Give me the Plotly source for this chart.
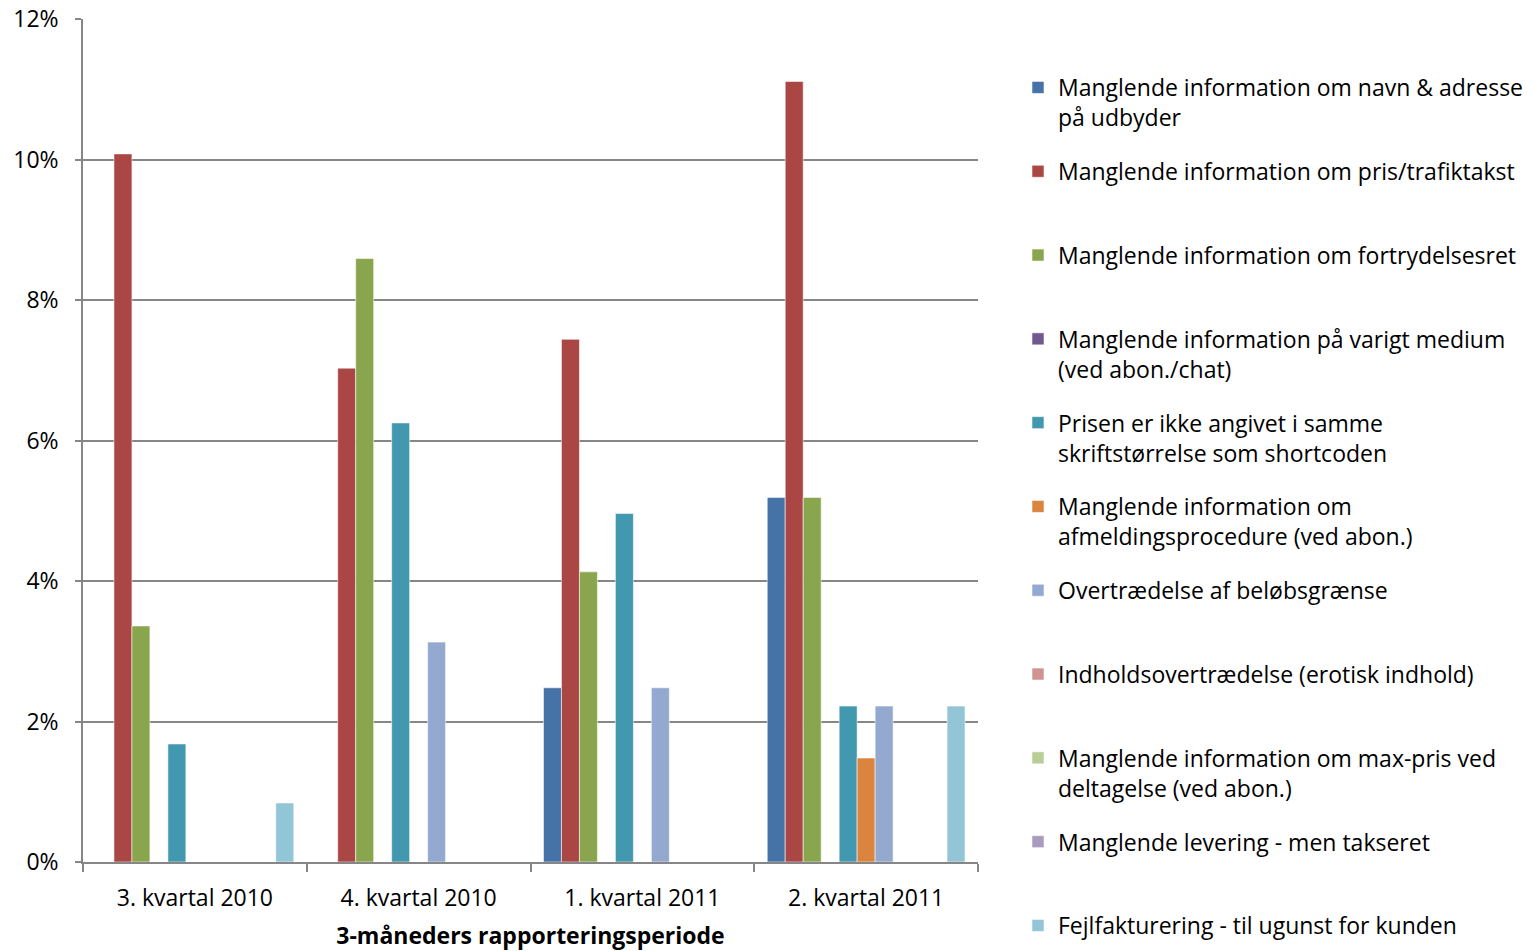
import plotly.graph_objects as go

# Reporting periods (x categories)
quarters = ["3. kvartal 2010", "4. kvartal 2010", "1. kvartal 2011", "2. kvartal 2011"]

# Violation categories (legend entries)
categories = [
    "Manglende information om navn & adresse<br>på udbyder",
    "Manglende information om pris/trafiktakst",
    "Manglende information om fortrydelsesret",
    "Manglende information på varigt medium<br>(ved abon./chat)",
    "Prisen er ikke angivet i samme<br>skriftstørrelse som shortcoden",
    "Manglende information om<br>afmeldingsprocedure (ved abon.)",
    "Overtrædelse af beløbsgrænse",
    "Indholdsovertrædelse (erotisk indhold)",
    "Manglende information om max-pris ved<br>deltagelse (ved abon.)",
    "Manglende levering - men takseret",
    "Fejlfakturering - til ugunst for kunden",
]

# Share of checked services per category, one value per quarter
navn_adresse = [0.0, 0.0, 0.0248, 0.0519]
pris_trafiktakst = [0.1008, 0.0703, 0.0744, 0.1111]
fortrydelsesret = [0.0336, 0.0859, 0.0413, 0.0519]
varigt_medium = [0.0, 0.0, 0.0, 0.0]
skriftstoerrelse = [0.0168, 0.0625, 0.0496, 0.0222]
afmelding = [0.0, 0.0, 0.0, 0.0148]
beloebsgraense = [0.0, 0.0313, 0.0248, 0.0222]
indhold = [0.0, 0.0, 0.0, 0.0]
max_pris = [0.0, 0.0, 0.0, 0.0]
levering = [0.0, 0.0, 0.0, 0.0]
fejlfakturering = [0.0084, 0.0, 0.0, 0.0222]

series = [navn_adresse, pris_trafiktakst, fortrydelsesret, varigt_medium,
          skriftstoerrelse, afmelding, beloebsgraense, indhold, max_pris,
          levering, fejlfakturering]

colors = ["#4572A7", "#AA4643", "#89A54E", "#71588F", "#4198AF", "#DB843D",
          "#93A9CF", "#D19392", "#B9CD96", "#A99BBD", "#92C5D6"]

y_ticks = [0, 0.02, 0.04, 0.06, 0.08, 0.10, 0.12]

FONT = "Open Sans"
SIZE = 23

fig = go.Figure()
last = len(categories) - 1
for i, (name, vals, col) in enumerate(zip(categories, series, colors)):
    # entries take two lines so they are evenly spaced (the last one needs no padding)
    label = name if ("<br>" in name or i == last) else name + "<br> "
    fig.add_trace(go.Bar(
        x=quarters, y=vals, name=label,
        marker=dict(color=col, line=dict(color="rgba(255,255,255,0.55)", width=1)),
        legendgroup=f"g{i}",
    ))

fig.update_layout(
    width=1535, height=951,
    barmode="group", bargap=0.116, bargroupgap=0,
    plot_bgcolor="white", paper_bgcolor="white",
    margin=dict(l=83, r=557, t=19, b=89, autoexpand=False),
    font=dict(family=FONT, size=SIZE, color="black"),
    legend=dict(
        xref="container", yref="container",
        x=1018 / 1535, y=1 - 66 / 951, xanchor="left", yanchor="top",
        font=dict(family=FONT, size=SIZE, color="black"),
        valign="top", tracegroupgap=21, itemwidth=30,
        maxheight=2000,
        bgcolor="rgba(0,0,0,0)",
    ),
    xaxis=dict(
        showline=True, linecolor="#868686", linewidth=1.5,
        ticks="outside", tickson="boundaries", ticklen=8,
        tickcolor="#868686", tickwidth=1.5,
        tickfont=dict(family=FONT, size=SIZE),
        ticklabelstandoff=15,
        title=dict(text="<b>3-måneders rapporteringsperiode</b>",
                   font=dict(family=FONT, size=SIZE), standoff=18),
    ),
    yaxis=dict(
        range=[0, 0.12], tickvals=y_ticks, tickformat=".0%",
        showline=True, linecolor="#868686", linewidth=1.5,
        ticks="outside", ticklen=6, tickcolor="#868686", tickwidth=1.5,
        showgrid=True, gridcolor="#868686", gridwidth=1.5,
        zeroline=False, tickfont=dict(family=FONT, size=SIZE),
        ticklabelstandoff=12,
    ),
)

fig.write_html("out.html")
